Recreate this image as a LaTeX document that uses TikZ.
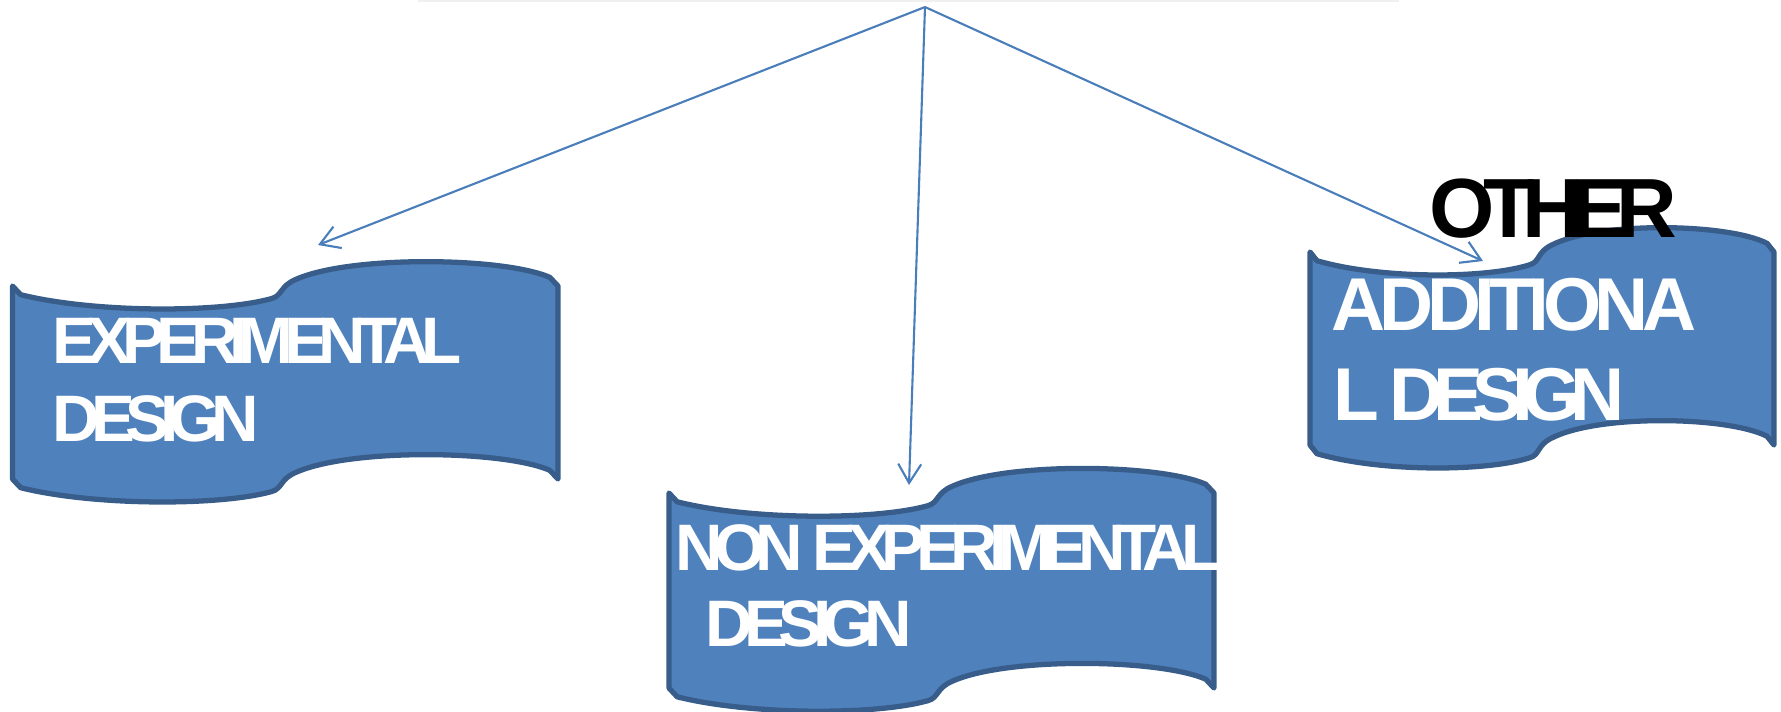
\documentclass[tikz,border=0pt]{standalone}
\usepackage{fontspec}
\newfontfamily\bannerfont{Liberation Sans}[LetterSpace=-14]
\usetikzlibrary{arrows.meta}
\definecolor{bannerfill}{RGB}{79,129,189}
\definecolor{bannerline}{RGB}{56,93,138}
\definecolor{linkblue}{RGB}{74,126,187}

\tikzset{
  % wavy banner, unit square, scaled per use
  banner/.pic={
    \path[draw=bannerline, fill=bannerfill, line width=1.5pt, line join=round]
      (0,0) -- (0.015,0.045)
      .. controls (0.15,0.14) and (0.38,0.14) .. (0.475,0.065)
      .. controls (0.495,0.05) and (0.49,0.0) .. (0.52,-0.035)
      .. controls (0.62,-0.16) and (0.9,-0.15) .. (0.985,-0.045)
      -- (1,0) -- (1,1) -- (0.985,0.955)
      .. controls (0.9,0.85) and (0.62,0.84) .. (0.52,0.965)
      .. controls (0.49,1.0) and (0.495,1.05) .. (0.475,1.065)
      .. controls (0.38,1.14) and (0.15,1.14) .. (0.015,1.045)
      -- (0,1) -- cycle;
  },
  link/.style={draw=linkblue, line width=0.6pt, -{Straight Barb[length=1.9mm,width=2.3mm]}},
  bannertext/.style={anchor=base west, inner sep=0pt, text=white,
    font=\bannerfont\bfseries\fontsize{#1}{#1}\selectfont},
  bannertext/.default=18.7pt
}

\begin{document}
\begin{tikzpicture}[x=0.1mm, y=-0.1mm]
\useasboundingbox (0,0) rectangle (1781,711);
\draw[gray!12, line width=0.8pt] (418,0.5) -- (1399,0.5);
% banners
\pic[xscale=545.5, yscale=193] at (12.5,286) {banner};
\pic[xscale=545, yscale=195] at (669,493) {banner};
\pic[xscale=464, yscale=193] at (1310,252) {banner};
% arrows from the top
\coordinate (top) at (925,7);
\coordinate (expTip) at (318,245);
\coordinate (nonTip) at (909,485);
\coordinate (addTip) at (1483,261);
\draw[link] (top) -- (expTip);
\draw[link] (top) -- (nonTip);
\draw[link] (top) -- (addTip);
% texts
\node[bannertext] (expA) at (52,363) {EXPERIMENTAL};
\node[bannertext] (expB) at (52,441) {DESIGN};
\node[bannertext] (nonA) at (675,570) {NON EXPERIMENTAL};
\node[bannertext] (nonB) at (705,646) {DESIGN};
\node[bannertext=21.3pt] (addA) at (1331,330) {\addfontfeature{LetterSpace=-8.5}ADDITIONA};
\node[bannertext=21.3pt] (addB) at (1333,420) {L DESIGN};
\node[bannertext=23.9pt, text=black] (other) at (1429,237) {OTHER};
\end{tikzpicture}
\end{document}
